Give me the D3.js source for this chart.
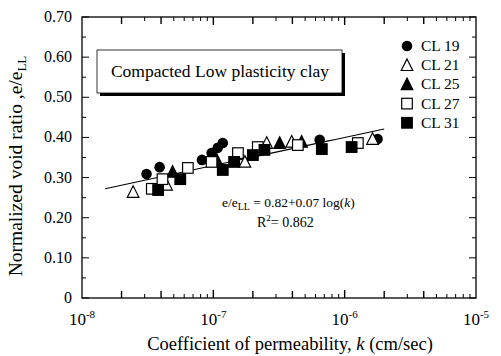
<!DOCTYPE html>
<html><head><meta charset="utf-8">
<script src="https://cdn.jsdelivr.net/npm/d3@7"></script>
<style>body{margin:0;background:#fff}svg{display:block}</style>
</head><body><svg id="c" width="501" height="356"></svg>
<script>
// Data: [k (cm/sec), e/eLL]
const cl19 = [[3.1e-8,0.309],[3.9e-8,0.326],[8.2e-8,0.344],[9.7e-8,0.361],[1.08e-7,0.374],[1.18e-7,0.386],[6.45e-7,0.394],[1.78e-6,0.396]];
const cl21 = [[2.45e-8,0.264],[4.4e-8,0.282],[1.74e-7,0.339],[2.55e-7,0.386],[3.95e-7,0.389],[1.63e-6,0.396]];
const cl25 = [[4.9e-8,0.314],[1.06e-7,0.344],[3.2e-7,0.386],[4.7e-7,0.389]];
const cl27 = [[3.4e-8,0.272],[4.1e-8,0.296],[6.4e-8,0.324],[9.7e-8,0.339],[1.54e-7,0.361],[2.18e-7,0.376],[4.4e-7,0.381],[1.26e-6,0.386]];
const cl31 = [[3.8e-8,0.269],[5.6e-8,0.296],[1.18e-7,0.319],[1.44e-7,0.339],[2.0e-7,0.356],[2.45e-7,0.369],[6.7e-7,0.371],[1.13e-6,0.376]];
const seriesNames = ["CL 19","CL 21","CL 25","CL 27","CL 31"];
const seriesSymbols = ["circle","triangleOpen","triangle","squareOpen","square"];
const yTickLabels = ["0","0.10","0.20","0.30","0.40","0.50","0.60","0.70"];
const xTickExps = [-8,-7,-6,-5];
const fitA = 0.82, fitB = 0.07, fitRange = [1.5e-8, 2.0e-6];
const titleText = "Compacted Low plasticity clay";

const svg = d3.select("#c").attr("font-family","'Liberation Serif', 'DejaVu Serif', serif");
const L=82,R=476,T=17,B=298;
const x = d3.scaleLog().domain([1e-8,1e-5]).range([L,R]);
const y = d3.scaleLinear().domain([0,0.7]).range([B,T]);

// frame
svg.append("rect").attr("x",L).attr("y",T).attr("width",R-L).attr("height",B-T).attr("fill","none").attr("stroke","#000").attr("stroke-width",1.3);

// y ticks
const yTicks = d3.range(0,0.7001,0.05);
yTicks.forEach((v,i)=>{
  const len = i%2===0?7:4;
  svg.append("line").attr("x1",L).attr("x2",L+len).attr("y1",y(v)).attr("y2",y(v)).attr("stroke","#000");
  svg.append("line").attr("x1",R).attr("x2",R-len).attr("y1",y(v)).attr("y2",y(v)).attr("stroke","#000");
});
yTickLabels.forEach((t,i)=>{
  svg.append("text").attr("x",72).attr("y",y(i*0.1)+5).attr("text-anchor","end").attr("font-size",16).text(t);
});
// x ticks
for(let e=-8;e<-5;e++){
  for(let m=1;m<10;m++){
    const v=m*Math.pow(10,e);
    if(m===1&&e===-8) continue;
    const len = m===1?8:(m===2||m===4?7:4);
    const sw = (m===1||m===2||m===4)?1.4:1;
    svg.append("line").attr("x1",x(v)).attr("x2",x(v)).attr("y1",B).attr("y2",B-len).attr("stroke","#000").attr("stroke-width",sw);
    svg.append("line").attr("x1",x(v)).attr("x2",x(v)).attr("y1",T).attr("y2",T+len).attr("stroke","#000").attr("stroke-width",sw);
  }
}
xTickExps.forEach(e=>{
  const t = svg.append("text").attr("x",x(Math.pow(10,e))).attr("y",325).attr("text-anchor","middle").attr("font-size",17);
  t.append("tspan").text("10");
  t.append("tspan").attr("dy",-7).attr("font-size",11).text(String(e));
});

// axis labels
const yl = svg.append("text").attr("transform","translate(22,166) rotate(-90)").attr("text-anchor","middle").attr("font-size",19.5);
yl.append("tspan").text("Normalized void ratio ,e/e");
yl.append("tspan").attr("dy",4).attr("font-size",13).text("LL");
const xl = svg.append("text").attr("x",290).attr("y",350).attr("text-anchor","middle").attr("font-size",18.5);
xl.append("tspan").text("Coefficient of permeability, ");
xl.append("tspan").attr("font-style","italic").text("k");
xl.append("tspan").text(" (cm/sec)");

// title box
svg.append("rect").attr("x",100).attr("y",53).attr("width",245).attr("height",43).attr("fill","#000");
svg.append("rect").attr("x",97).attr("y",50).attr("width",245).attr("height",43).attr("fill","#fff").attr("stroke","#000").attr("stroke-width",0.8);
svg.append("text").attr("x",220).attr("y",77).attr("text-anchor","middle").attr("font-size",17.5).text(titleText);

// fit line
const fitPts = d3.range(0,41).map(i=>{const lk=Math.log10(fitRange[0])+(Math.log10(fitRange[1])-Math.log10(fitRange[0]))*i/40; return [Math.pow(10,lk), fitA+fitB*lk];});
svg.append("path").attr("d",d3.line().x(d=>x(d[0])).y(d=>y(d[1]))(fitPts)).attr("fill","none").attr("stroke","#000").attr("stroke-width",1.1);

// markers
function drawSym(g,type,cx,cy){
  const s=5.3;
  if(type==="circle") g.append("circle").attr("cx",cx).attr("cy",cy).attr("r",s).attr("fill","#000");
  else if(type==="square"||type==="squareOpen") g.append("rect").attr("x",cx-s).attr("y",cy-s).attr("width",2*s).attr("height",2*s).attr("fill",type==="square"?"#000":"#fff").attr("stroke","#000").attr("stroke-width",1.2);
  else { const p=`M${cx},${cy-s-1}L${cx+s+0.5},${cy+s}L${cx-s-0.5},${cy+s}Z`; g.append("path").attr("d",p).attr("fill",type==="triangle"?"#000":"#fff").attr("stroke","#000").attr("stroke-width",1.2);}
}
const allSeries=[cl19,cl21,cl25,cl27,cl31];
const g=svg.append("g");
allSeries.forEach((s,i)=>s.forEach(d=>drawSym(g,seriesSymbols[i],x(d[0]),y(d[1]))));

// equation
const eq = svg.append("text").attr("x",222).attr("y",207).attr("font-size",13.5);
eq.append("tspan").text("e/e");
eq.append("tspan").attr("dy",3).attr("font-size",10).text("LL");
eq.append("tspan").attr("dy",-3).text(" = 0.82+0.07 log(");
eq.append("tspan").attr("font-style","italic").text("k");
eq.append("tspan").text(")");
const r2 = svg.append("text").attr("x",257).attr("y",227).attr("font-size",14);
r2.append("tspan").text("R");
r2.append("tspan").attr("dy",-6).attr("font-size",9).text("2");
r2.append("tspan").attr("dy",6).text("= 0.862");

// legend
const lg = svg.append("g");
seriesNames.forEach((n,i)=>{
  const yy=46+i*19.2;
  drawSym(lg,seriesSymbols[i],407,yy);
  lg.append("text").attr("x",421).attr("y",yy+5).attr("font-size",15.5).text(n);
});
</script></body></html>
